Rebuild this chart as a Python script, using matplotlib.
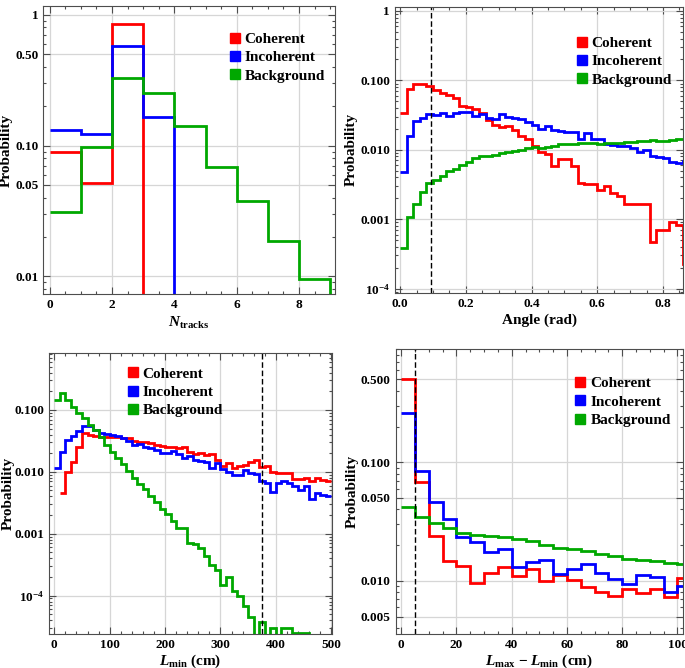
import numpy as np
import matplotlib
matplotlib.use('Agg')
import matplotlib.pyplot as plt
from matplotlib.lines import Line2D
from matplotlib.ticker import FixedLocator, FixedFormatter, LogLocator, MultipleLocator, NullFormatter

plt.rcParams['font.family'] = 'Liberation Serif'
plt.rcParams['font.weight'] = 'bold'
plt.rcParams['mathtext.fontset'] = 'custom'
plt.rcParams['mathtext.rm'] = 'Liberation Serif:bold'
plt.rcParams['mathtext.bf'] = 'Liberation Serif:bold'
plt.rcParams['mathtext.it'] = 'Liberation Serif:bold:italic'

# number of tracks
ntr_edges = np.arange(0, 11)
ntr_coh = [0.090, 0.052, 0.85, 0, 0, 0, 0, 0, 0, 0]
ntr_inc = [0.132, 0.123, 0.577, 0.164, 0, 0, 0, 0, 0, 0]
ntr_bkg = [0.0308, 0.098, 0.33, 0.251, 0.141, 0.068, 0.038, 0.0188, 0.0095, 0]

# opening angle (rad), bins of 0.02
ang_edges = np.round(np.arange(0, 45) * 0.02, 3)
ang_coh = [0.0334, 0.0758, 0.0895, 0.0885, 0.0838, 0.0718, 0.0656, 0.0621, 0.0556, 0.0431,
           0.0408, 0.0390, 0.0338, 0.0265, 0.0230, 0.0212, 0.0222, 0.0194, 0.0156, 0.0143,
           0.0113, 0.0092, 0.0087, 0.0059, 0.0073, 0.0073, 0.0059, 0.0033, 0.0032, 0.0032,
           0.00265, 0.00296, 0.00237, 0.00212, 0.00164, 0.00164, 0.00164, 0.00164, 0.00047, 0.00069,
           0.00069, 0.00092, 0.00081, 0.000225]
ang_inc = [0.0047, 0.0156, 0.0256, 0.0286, 0.0327, 0.0320, 0.0338, 0.0309, 0.0338, 0.0345,
           0.0345, 0.0303, 0.0327, 0.0286, 0.0280, 0.0327, 0.0296, 0.0286, 0.0277, 0.0248,
           0.0228, 0.0202, 0.0222, 0.0194, 0.0184, 0.0178, 0.0178, 0.0143, 0.0174, 0.0143,
           0.0143, 0.0122, 0.0118, 0.0114, 0.0112, 0.0106, 0.0092, 0.0100, 0.0082, 0.0078,
           0.0076, 0.0066, 0.0064, 0.0068]
ang_bkg = [0.00038, 0.00109, 0.00166, 0.00242, 0.0033, 0.0037, 0.0042, 0.0049, 0.0052, 0.0061,
           0.0066, 0.0076, 0.0080, 0.0080, 0.0085, 0.0090, 0.0092, 0.0095, 0.0100, 0.0106,
           0.0108, 0.0106, 0.0109, 0.0115, 0.0121, 0.0122, 0.0122, 0.0125, 0.0125, 0.0125,
           0.0122, 0.0125, 0.0125, 0.0125, 0.0129, 0.0129, 0.0135, 0.0135, 0.0136, 0.0132,
           0.0132, 0.0136, 0.0143, 0.0143]

# L_min (cm), bins of 10 cm; coherent starts at 10 cm
lmin_edges = np.arange(0, 510, 10)
lmin_coh = [0.0045, 0.0100, 0.0146, 0.0256, 0.043, 0.0394, 0.038, 0.0361, 0.037,
            0.0361, 0.0361, 0.0348, 0.0348, 0.0316, 0.0308, 0.0308, 0.0296, 0.0272, 0.0262,
            0.0256, 0.0256, 0.024, 0.025, 0.0212, 0.0195, 0.0199, 0.0188, 0.0195, 0.0156,
            0.0124, 0.0141, 0.0114, 0.0124, 0.0129, 0.0146, 0.0156, 0.0119, 0.0122, 0.0101,
            0.0097, 0.0095, 0.0095, 0.0076, 0.0076, 0.0079, 0.0070, 0.0079, 0.0074, 0.0070]
lmin_inc = [0.0114, 0.0212, 0.0327, 0.038, 0.0464, 0.0552, 0.0552, 0.0475, 0.042, 0.041,
            0.0394, 0.038, 0.0348, 0.032, 0.0272, 0.0282, 0.0256, 0.024, 0.0226, 0.0205,
            0.0205, 0.0217, 0.0195, 0.0166, 0.0181, 0.0156, 0.0152, 0.0146, 0.0114, 0.0141,
            0.0110, 0.0101, 0.0089, 0.0089, 0.0107, 0.0097, 0.0093, 0.0070, 0.0067, 0.0048,
            0.0066, 0.0072, 0.0067, 0.0058, 0.0051, 0.0058, 0.0037, 0.0046, 0.0042, 0.0041]
lmin_bkg = [0.143, 0.188, 0.143, 0.112, 0.089, 0.074, 0.058, 0.047, 0.037, 0.0272,
            0.021, 0.017, 0.0133, 0.0103, 0.0080, 0.0063, 0.0052, 0.0041, 0.0033, 0.0025,
            0.0021, 0.0016, 0.00122, 0.00122, 0.00072, 0.00068, 0.00058, 0.00043, 0.00031, 0.00026,
            0.000149, 0.000203, 0.00012, 9.9e-5, 6.8e-5, 4.5e-5, 0, 3.8e-5, 0, 3.0e-5,
            0, 3.0e-5, 3.0e-5, 2.5e-5, 2.5e-5, 2.5e-5, 0, 0, 0, 0]

# L_max - L_min (cm), bins of 5 cm
dl_edges = np.arange(0, 110, 5)
dl_coh = [0.50, 0.0678, 0.0237, 0.0148, 0.0134, 0.0096, 0.0116, 0.0130, 0.0109, 0.0125,
          0.0100, 0.0112, 0.0101, 0.0089, 0.0080, 0.0075, 0.0085, 0.0079, 0.0085, 0.0073, 0.0105]
dl_inc = [0.262, 0.0845, 0.0463, 0.0331, 0.0232, 0.0213, 0.0176, 0.0185, 0.0131, 0.0145,
          0.0149, 0.0115, 0.0125, 0.0138, 0.0117, 0.0103, 0.0094, 0.0113, 0.0108, 0.0081, 0.0090]
dl_bkg = [0.0418, 0.0348, 0.031, 0.0278, 0.0255, 0.0244, 0.0237, 0.0232, 0.0226, 0.0217,
          0.0201, 0.0188, 0.0185, 0.0177, 0.0169, 0.0163, 0.0153, 0.015, 0.0147, 0.0141, 0.0138]

names = ['Coherent', 'Incoherent', 'Background']
colors = ['#ff0000', '#0000ff', '#00a800']
lw = 2.0


def style(ax, xlim, ylim, yt, ylab, xmaj, xmin, xlabel, leg_xy, ylab_x, xpad=3):
    ax.set_yscale('log')
    ax.set_xlim(*xlim)
    ax.set_ylim(*ylim)
    ax.yaxis.set_major_locator(FixedLocator(yt))
    ax.yaxis.set_major_formatter(FixedFormatter(ylab))
    ax.yaxis.set_minor_locator(LogLocator(base=10, subs=np.arange(2, 10), numticks=20))
    ax.yaxis.set_minor_formatter(NullFormatter())
    ax.xaxis.set_major_locator(MultipleLocator(xmaj))
    ax.xaxis.set_minor_locator(MultipleLocator(xmin))
    ax.grid(True, which='major', color='#d6d6d6', lw=0.9)
    ax.set_axisbelow(True)
    ax.tick_params(which='both', direction='in', top=True, right=True, colors='#4d4d4d',
                   labelcolor='black', labelsize=9.5, width=0.8)
    ax.tick_params(which='major', length=5)
    ax.tick_params(which='minor', length=2.5)
    for s in ax.spines.values():
        s.set_color('#4d4d4d')
    ax.set_ylabel('Probability', fontsize=11, fontweight='bold')
    ax.yaxis.set_label_coords(ylab_x, 0.5)
    ax.set_xlabel(xlabel, fontsize=11, fontweight='bold', labelpad=xpad)
    handles = [Line2D([], [], ls='none', marker='s', ms=7, color=c) for c in colors]
    ax.legend(handles, names, loc='upper left', bbox_to_anchor=leg_xy, frameon=False,
              prop={'family': 'Liberation Serif', 'weight': 'bold', 'size': 11},
              handlelength=0.6, handletextpad=0.35, labelspacing=0.3,
              borderpad=0, borderaxespad=0)


fig = plt.figure(figsize=(6.85, 6.68), dpi=100)

# top left: N_tracks
ax1 = fig.add_axes([0.0632, 0.5594, 0.4258, 0.4320])
ax1.stairs(ntr_coh, ntr_edges, baseline=None, color=colors[0], lw=lw)
ax1.stairs(ntr_inc, ntr_edges, baseline=None, color=colors[1], lw=lw)
ax1.stairs(ntr_bkg, ntr_edges, baseline=None, color=colors[2], lw=lw)
style(ax1, (-0.2, 9.15), (0.0073, 1.17), [0.01, 0.05, 0.1, 0.5, 1],
      ['0.01', '0.05', '0.10', '0.50', '1'], 2, 0.5,
      r'$\mathit{N}_{\mathrm{tracks}}$', (0.64, 0.908), -0.104)

# top right: angle
ax2 = fig.add_axes([0.5766, 0.5618, 0.4209, 0.4281])
ax2.stairs(ang_coh, ang_edges, baseline=None, color=colors[0], lw=lw)
ax2.stairs(ang_inc, ang_edges, baseline=None, color=colors[1], lw=lw)
ax2.stairs(ang_bkg, ang_edges, baseline=None, color=colors[2], lw=lw)
ax2.axvline(0.094, color='black', ls=(0, (4, 2)), lw=1)
style(ax2, (-0.016, 0.862), (8.7e-5, 1.15), [1e-4, 1e-3, 1e-2, 0.1, 1],
      [r'$\mathbf{10^{-4}}$', '0.001', '0.010', '0.100', '1'], 0.2, 0.05,
      'Angle (rad)', (0.632, 0.896), -0.128)

# bottom left: L_min
ax3 = fig.add_axes([0.0720, 0.0509, 0.4123, 0.4211])
ax3.stairs(lmin_coh, lmin_edges[1:], baseline=None, color=colors[0], lw=lw)
ax3.stairs(lmin_inc, lmin_edges, baseline=None, color=colors[1], lw=lw)
ax3.stairs(lmin_bkg, lmin_edges, baseline=None, color=colors[2], lw=lw)
ax3.axvline(375, color='black', ls=(0, (4, 2)), lw=1)
style(ax3, (-9, 501), (2.4e-5, 0.84), [1e-4, 1e-3, 1e-2, 0.1],
      [r'$\mathbf{10^{-4}}$', '0.001', '0.010', '0.100'], 100, 20,
      r'$\mathit{L}_{\mathrm{min}}$ (cm)', (0.279, 0.949), -0.121, xpad=1)

# bottom right: L_max - L_min
ax4 = fig.add_axes([0.5777, 0.0509, 0.4194, 0.4266])
ax4.stairs(dl_coh, dl_edges, baseline=None, color=colors[0], lw=lw)
ax4.stairs(dl_inc, dl_edges, baseline=None, color=colors[1], lw=lw)
ax4.stairs(dl_bkg, dl_edges, baseline=None, color=colors[2], lw=lw)
ax4.axvline(5, color='black', ls=(0, (4, 2)), lw=1)
style(ax4, (-2, 102), (0.00356, 0.9), [0.005, 0.01, 0.05, 0.1, 0.5],
      ['0.005', '0.010', '0.050', '0.100', '0.500'], 20, 5,
      r'$\mathit{L}_{\mathrm{max}}$ $-$ $\mathit{L}_{\mathrm{min}}$ (cm)', (0.627, 0.903), -0.130,
      xpad=1)

fig.savefig('out.png', dpi=100)
